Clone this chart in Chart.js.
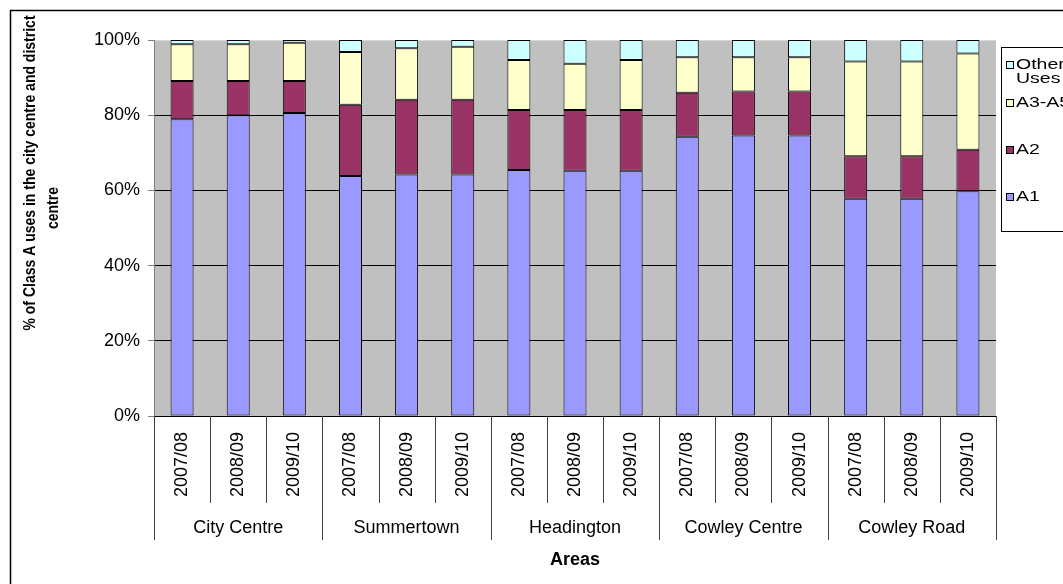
<!DOCTYPE html>
<html>
<head>
<meta charset="utf-8">
<script src="https://cdn.jsdelivr.net/npm/chart.js@4/dist/chart.umd.min.js"></script>
<style>
html, body { margin: 0; padding: 0; background: #fff; overflow: hidden; }
</style>
</head>
<body>
<canvas id="chart" width="1063" height="584"></canvas>
<script>
// DATA
const areas = ["City Centre", "Summertown", "Headington", "Cowley Centre", "Cowley Road"];
const years = ["2007/08", "2008/09", "2009/10"];
const yearLabels = areas.flatMap(() => years);

const seriesNames = ["A1", "A2", "A3-A5", "Other Uses"];
const a1    = [78.9, 80.0, 80.6, 63.8, 64.2, 64.2, 65.4, 65.2, 65.2, 74.3, 74.6, 74.6, 57.8, 57.8, 59.8];
const a2    = [10.2,  9.1,  8.5, 19.0, 19.9, 19.9, 16.0, 16.2, 16.2, 11.7, 11.7, 11.7, 11.3, 11.3, 11.0];
const a3a5  = [ 9.8,  9.8, 10.2, 14.0, 13.7, 14.1, 13.3, 12.3, 13.3,  9.4,  9.1,  9.1, 25.2, 25.2, 25.6];
const other = [ 1.1,  1.1,  0.7,  3.2,  2.2,  1.8,  5.3,  6.3,  5.3,  4.6,  4.6,  4.6,  5.7,  5.7,  3.6];
const colors = ["#9999FF", "#993366", "#FFFFCC", "#CCFFFF"];

const yTicks = [0, 20, 40, 60, 80, 100];
const yTitle = ["% of Class A uses in the city centre and district", "centre"];
const xTitle = "Areas";

const FONT = "'Liberation Sans', Arial, sans-serif";


// draw text stretched sideways, like the source picture
function wideText(ctx, text, x, y, sx, angle) {
    ctx.save();
    ctx.translate(x, y);
    ctx.scale(sx, 1);
    if (angle) ctx.rotate(angle);
    ctx.fillText(text, 0, 0);
    ctx.restore();
}


// DECORATION: frame, plot background, grouped axis, titles, legend
const decor = {
    id: "decor",
    beforeDraw(chart) {
        const { ctx, chartArea: a } = chart;
        ctx.save();
        ctx.fillStyle = "#C0C0C0";
        ctx.fillRect(a.left, a.top, a.right - a.left, a.bottom - a.top);
        ctx.restore();
    },
    afterDraw(chart) {
        const { ctx, chartArea: a } = chart;
        const x = chart.scales.x;
        ctx.save();

        // outer frame (top and left only, the rest is cut off)
        ctx.strokeStyle = "#000";
        ctx.lineWidth = 1.5;
        ctx.beginPath();
        ctx.moveTo(10.5, 584);
        ctx.lineTo(10.5, 10.5);
        ctx.lineTo(1063, 10.5);
        ctx.stroke();

        // category separators
        const w = x.getPixelForValue(1) - x.getPixelForValue(0);
        ctx.strokeStyle = "#404040";
        ctx.lineWidth = 1;
        for (let i = 0; i <= yearLabels.length; i++) {
            const px = Math.round(x.getPixelForValue(i) - w / 2) + 0.5;
            ctx.beginPath();
            ctx.moveTo(px, a.bottom);
            ctx.lineTo(px, i % years.length === 0 ? 540 : 503);
            ctx.stroke();
        }

        // group labels
        ctx.fillStyle = "#000";
        ctx.font = "18px " + FONT;
        ctx.textAlign = "center";
        ctx.textBaseline = "middle";
        areas.forEach((name, g) => {
            ctx.fillText(name, x.getPixelForValue(g * years.length + 1), 528);
        });

        // x title
        ctx.font = "bold 18px " + FONT;
        ctx.fillText(xTitle, (a.left + a.right) / 2, 560);

        // y title
        ctx.font = "bold 14px " + FONT;
        wideText(ctx, yTitle[0], 30, 173, 1.2, -Math.PI / 2);
        wideText(ctx, yTitle[1], 53, 208, 1.2, -Math.PI / 2);

        // legend (runs past the right edge)
        ctx.fillStyle = "#fff";
        ctx.fillRect(1001.5, 47.5, 120, 184);
        ctx.strokeStyle = "#000";
        ctx.strokeRect(1001.5, 47.5, 120, 184);
        const rows = [
            { lines: ["Other", "Uses"], c: colors[3], y: 65 },
            { lines: ["A3-A5"], c: colors[2], y: 103 },
            { lines: ["A2"], c: colors[1], y: 150 },
            { lines: ["A1"], c: colors[0], y: 197 }
        ];
        ctx.font = "15px " + FONT;
        ctx.textAlign = "left";
        rows.forEach(r => {
            ctx.fillStyle = r.c;
            ctx.fillRect(1006.5, r.y - 3.5, 7, 7);
            ctx.strokeStyle = "#000";
            ctx.strokeRect(1006.5, r.y - 3.5, 7, 7);
            ctx.fillStyle = "#000";
            r.lines.forEach((t, k) => wideText(ctx, t, 1016, r.y + k * 14, 1.3, 0));
        });

        ctx.restore();
    }
};


// CHART
new Chart(document.getElementById("chart"), {
    type: "bar",
    data: {
        labels: yearLabels,
        datasets: [a1, a2, a3a5, other].map((d, i) => ({
            label: seriesNames[i],
            data: d,
            backgroundColor: colors[i],
            borderColor: "#000",
            borderWidth: 1,
            borderSkipped: false,
            barPercentage: 0.41,
            categoryPercentage: 1
        }))
    },
    options: {
        responsive: false,
        animation: false,
        layout: { padding: { left: 0, top: 40, right: 67, bottom: 0 } },
        plugins: { legend: { display: false }, tooltip: { enabled: false } },
        scales: {
            x: {
                stacked: true,
                grid: { display: false, drawTicks: false },
                border: { color: "#000" },
                ticks: {
                    autoSkip: false, minRotation: 90, maxRotation: 90,
                    padding: 16, color: "#000", font: { family: FONT, size: 18 }
                },
                afterFit(s) { s.height = 168; }
            },
            y: {
                stacked: true,
                min: 0, max: 100,
                afterBuildTicks(s) { s.ticks = yTicks.map(v => ({ value: v })); },
                ticks: {
                    callback: v => v + "%",
                    padding: 8, color: "#000", font: { family: FONT, size: 18 }
                },
                grid: {
                    color: c => c.tick && c.tick.value === 100 ? "#D8D8D8" : "#000",
                    tickColor: "#808080",
                    tickLength: 6
                },
                border: { color: "#808080" },
                afterFit(s) { s.width = 154; }
            }
        }
    },
    plugins: [decor]
});
</script>
</body>
</html>
